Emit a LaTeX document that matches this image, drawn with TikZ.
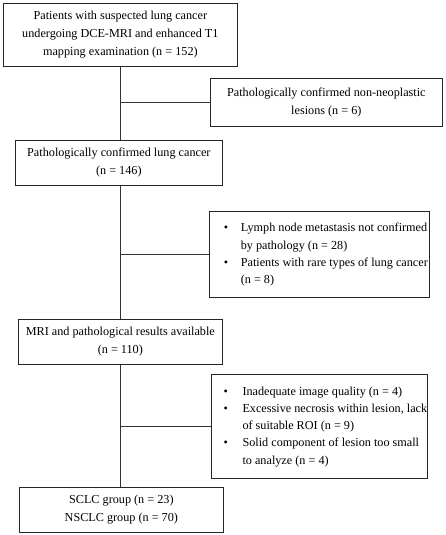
\documentclass[tikz,border=0pt]{standalone}
\usepackage{fontspec}
\setmainfont{Liberation Serif}
\newcommand\bul[1]{\makebox[#1][l]{\hspace{3pt}\textbullet}}
\begin{document}
\begin{tikzpicture}[x=1pt,y=1pt,
  box/.style={draw=black!85, line width=0.7pt, anchor=north west, align=center, inner sep=0pt,
    font=\fontsize{12.2pt}{17.8pt}\selectfont},
  lbox/.style={box, font=\fontsize{12.2pt}{17.2pt}\selectfont},
  conn/.style={draw=black!80, line width=0.7pt}]
\useasboundingbox (0,0) rectangle (446,-535);
\node[box, minimum width=234pt, minimum height=63pt] (b1) at (3,-3)
  {Patients with suspected lung cancer\\undergoing DCE-MRI and enhanced T1\\mapping examination (n = 152)};
\node[box, minimum width=232pt, minimum height=48pt] (b2) at (210,-78)
  {Pathologically confirmed non-neoplastic\\lesions (n = 6)};
\node[box, minimum width=207pt, minimum height=45pt] (b3) at (15,-140)
  {Pathologically confirmed lung cancer\\(n = 146)};
\node[lbox, minimum width=220pt, minimum height=86pt] (b4) at (209,-211)
  {\hspace{10pt}\begin{tabular}{@{}l@{}l@{}}
   \bul{20pt} & Lymph node metastasis not confirmed\\
   & by pathology (n = 28)\\
   \bul{20pt} & Patients with rare types of lung cancer\\
   & (n = 8)
   \end{tabular}};
\node[box, minimum width=204pt, minimum height=45pt] (b5) at (18,-319)
  {MRI and pathological results available\\(n = 110)};
\node[lbox, minimum width=216pt, minimum height=104pt] (b6) at (211,-374)
  {\hspace{9pt}\begin{tabular}{@{}l@{}l@{}}
   \bul{22pt} & Inadequate image quality (n = 4)\\
   \bul{22pt} & Excessive necrosis within lesion, lack\\
   & of suitable ROI (n = 9)\\
   \bul{22pt} & Solid component of lesion too small\\
   & to analyze (n = 4)
   \end{tabular}};
\node[box, minimum width=204pt, minimum height=45pt] (b7) at (19,-487)
  {SCLC group (n = 23)\\NSCLC group (n = 70)};
\coordinate (v) at (120,0);
\draw[conn] (b1.south -| v) -- (b3.north -| v);
\draw[conn] (b3.south -| v) -- (b5.north -| v);
\draw[conn] (b5.south -| v) -- (b7.north -| v);
\draw[conn] (b2.west -| v) -- (b2.west);
\draw[conn] (b4.west -| v) -- (b4.west);
\draw[conn] (b6.west -| v) -- (b6.west);
\end{tikzpicture}
\end{document}
